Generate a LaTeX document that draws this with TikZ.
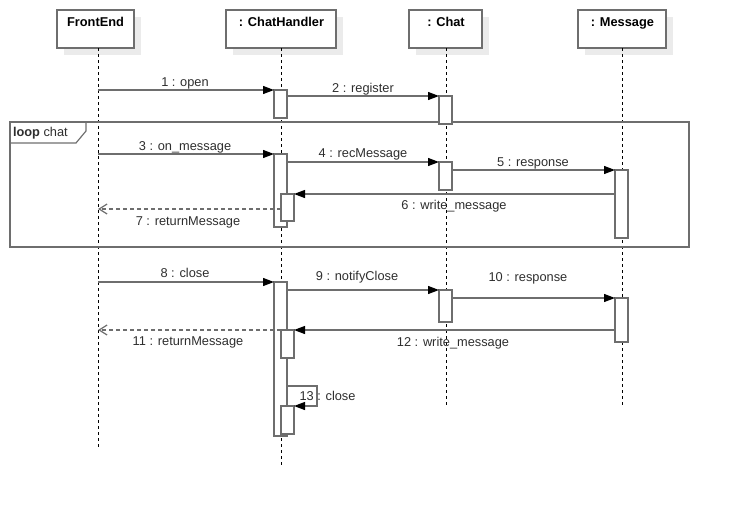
\documentclass[tikz,border=0pt]{standalone}
\usepackage{fontspec}
\setmainfont{Liberation Sans}
\usetikzlibrary{arrows.meta,shadows}
\definecolor{edge}{HTML}{6E6E6E}
\definecolor{ink}{HTML}{2E2E2E}
\definecolor{shade}{HTML}{EBEBEB}
\begin{document}
\begin{tikzpicture}[x=1pt,y=-1pt,
  every node/.style={inner sep=0pt, outer sep=0pt, text=ink,
    font=\fontsize{12.8}{15}\selectfont},
  headbox/.style={draw=edge, line width=1.2pt, fill=white,
    minimum width=#1, minimum height=38pt, anchor=north west,
    general shadow={fill=shade, shadow xshift=7pt, shadow yshift=-7pt}},
  headtext/.style={anchor=base, text=black, font=\fontsize{12.8}{15}\selectfont\bfseries},
  lifeline/.style={draw=black, line width=0.8pt, dash pattern=on 3pt off 3pt},
  act/.style={draw=edge, line width=1.2pt, fill=white, minimum width=13pt,
    minimum height=#1, anchor=north west},
  msg/.style={draw=edge, line width=1.2pt,
    -{Triangle[length=11pt,width=8pt,color=black]}},
  ret/.style={draw=edge, line width=1.2pt, dash pattern=on 4pt off 3pt,
    -{Straight Barb[length=8pt,width=10pt]}},
  lbl/.style={anchor=base},
  frame/.style={draw=edge, line width=1.2pt}
]
\useasboundingbox (0,0) rectangle (729,506);

% participants
\node[headbox=77pt] (fe) at (57,10) {};
\node[headbox=110pt] (ch) at (226,10) {};
\node[headbox=73pt] (ct) at (409,10) {};
\node[headbox=88pt] (ms) at (578,10) {};
\node[headtext] (feT) at (95.5,27) {FrontEnd};
\node[headtext] (chT) at (281.5,27) {: ChatHandler};
\node[headtext] (ctT) at (446,27) {: Chat};
\node[headtext] (msT) at (622.5,27) {: Message};

% lifelines
\coordinate (feEnd) at (98,448);
\coordinate (chEnd) at (281,465);
\coordinate (ctEnd) at (446,407);
\coordinate (msEnd) at (622,407);
\draw[lifeline] (fe.south -| feEnd) -- (feEnd);
\draw[lifeline] (ch.south -| chEnd) -- (chEnd);
\draw[lifeline] (ct.south -| ctEnd) -- (ctEnd);
\draw[lifeline] (ms.south -| msEnd) -- (msEnd);

% loop fragment
\node[frame, minimum width=679pt, minimum height=125pt, anchor=north west] (loop) at (10,122) {};
\draw[frame] (10,143) -- (76,143) -- (86,131) -- (86,122);
\node[anchor=base west] (loopT) at (13,136.5) {\textbf{loop} chat};

% activations
\node[act=28pt] (ch1) at (274,90) {};
\node[act=28pt] (ca1) at (439,96) {};
\node[act=73pt] (ch2) at (274,154) {};
\node[act=28pt] (ca2) at (439,162) {};
\node[act=68pt] (ms1) at (615,170) {};
\node[act=27pt] (ch2b) at (281,194) {};
\node[act=154pt] (ch3) at (274,282) {};
\node[act=32pt] (ca3) at (439,290) {};
\node[act=44pt] (ms2) at (615,298) {};
\node[act=28pt] (ch3b) at (281,330) {};
\node[act=28pt] (ch3c) at (281,406) {};

% message origins on the FrontEnd lifeline
\coordinate (fe1) at (98,90);
\coordinate (fe3) at (98,154);
\coordinate (fe7) at (98,209);
\coordinate (fe8) at (98,282);
\coordinate (fe11) at (98,330);
\coordinate (self1) at (317,386);
\coordinate (self2) at (317,406);

% messages
\draw[msg] (fe1) -- (ch1.north west);
\draw[msg] (ch1.east |- ca1.north west) -- (ca1.north west);
\draw[msg] (fe3) -- (ch2.north west);
\draw[msg] (ch2.east |- ca2.north west) -- (ca2.north west);
\draw[msg] (ca2.east |- ms1.north west) -- (ms1.north west);
\draw[msg] (ms1.west |- ch2b.north east) -- (ch2b.north east);
\draw[ret] (ch2b.west |- fe7) -- (fe7);
\draw[msg] (fe8) -- (ch3.north west);
\draw[msg] (ch3.east |- ca3.north west) -- (ca3.north west);
\draw[msg] (ca3.east |- ms2.north west) -- (ms2.north west);
\draw[msg] (ms2.west |- ch3b.north east) -- (ch3b.north east);
\draw[ret] (ch3b.west |- fe11) -- (fe11);
\draw[msg] (ch3.east |- self1) -- (self1) -- (self2) -- (ch3c.north east);

% message labels
\node[lbl] (m1) at (185,86) {1 : open};
\node[lbl] (m2) at (363,92) {2 : register};
\node[lbl] (m3) at (185,150) {3 : on\_message};
\node[lbl] (m4) at (363,157) {4 : recMessage};
\node[lbl] (m5) at (533,166) {5 : response};
\node[lbl] (m6) at (454,209) {6 : write\_message};
\node[lbl] (m7) at (188,225) {7 : returnMessage};
\node[lbl] (m8) at (185,277) {8 : close};
\node[lbl] (m9) at (357,280) {9 : notifyClose};
\node[lbl] (m10) at (528,281) {10 : response};
\node[lbl] (m11) at (188,345) {11 : returnMessage};
\node[lbl] (m12) at (453,346) {12 : write\_message};
\node[lbl] (m13) at (327.5,400) {13 : close};
\end{tikzpicture}
\end{document}
